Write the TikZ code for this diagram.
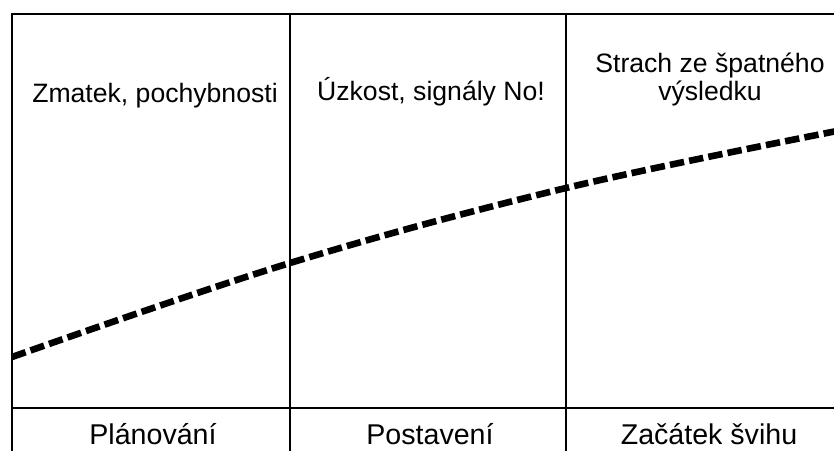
\documentclass[tikz,border=0pt]{standalone}
\usepackage{fontspec}
\setmainfont{Liberation Sans}
\begin{document}
\begin{tikzpicture}[x=0.5pt,y=-0.5pt,
  frame/.style={line width=1.4pt},
  curve/.style={line width=3.3pt, dash pattern=on 7.2pt off 2.6pt},
  lbl/.style={font=\fontsize{13.3pt}{14pt}\selectfont, inner sep=0pt, anchor=base, align=center},
  blbl/.style={lbl, font=\fontsize{14.3pt}{15pt}\selectfont}]
\useasboundingbox (0,0) rectangle (834,450);
\clip (0,0) rectangle (834,450);
% frame coordinates
\coordinate (tl) at (12,14);
\coordinate (tr) at (840,14);
\coordinate (bl) at (12,456);
\coordinate (t1) at (290,14);
\coordinate (b1) at (290,456);
\coordinate (t2) at (566,14);
\coordinate (b2) at (566,456);
\coordinate (ml) at (12,408);
\coordinate (mr) at (840,408);
\draw[frame] (tr) -- (tl) -- (bl);
\draw[frame] (t1) -- (b1);
\draw[frame] (t2) -- (b2);
\draw[frame] (ml) -- (mr);
% curve
\coordinate (c0) at (12,357);
\coordinate (c1) at (290,263);
\coordinate (c2) at (566,188);
\coordinate (c3) at (842,130);
\draw[curve] plot[smooth, tension=0.6] coordinates {(c0) (c1) (c2) (c3)};
% labels
\node[lbl] (zmatek) at (155,102) {Zmatek, pochybnosti};
\node[lbl] (uzkost) at (431,100) {Úzkost, signály No!};
\node[lbl] (strach) at (710,100) {Strach ze špatného\\výsledku};
\node[blbl] (plan) at (153,444) {Plánování};
\node[blbl] (post) at (430,444) {Postavení};
\node[blbl] (zacatek) at (709,444) {Začátek švihu};
\end{tikzpicture}
\end{document}
